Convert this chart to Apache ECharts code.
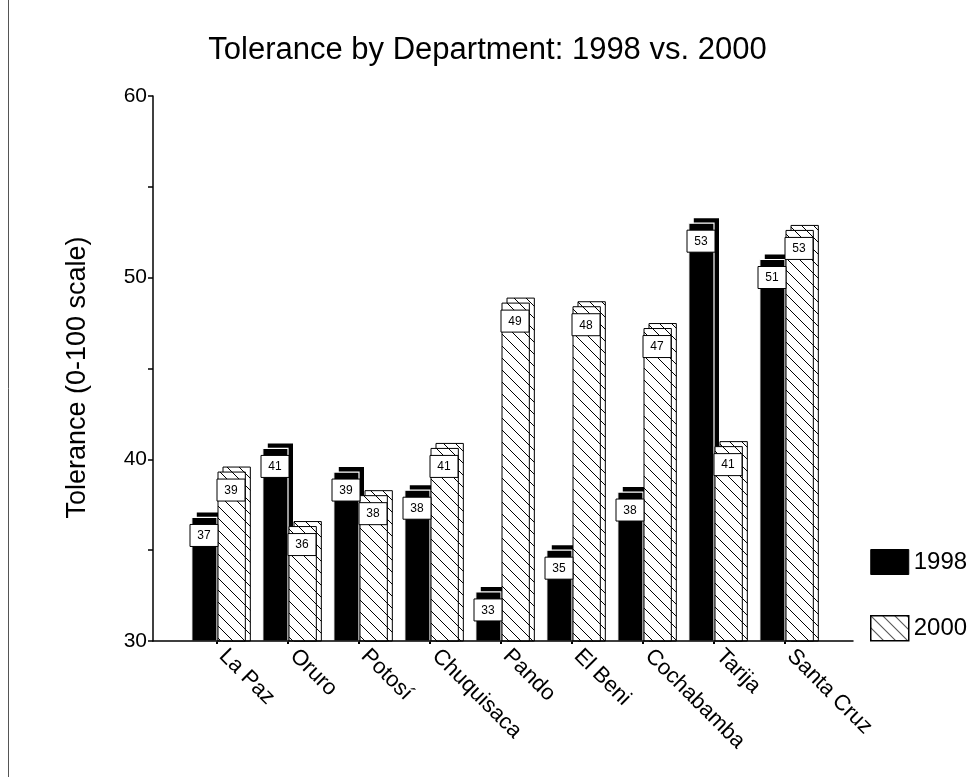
<!DOCTYPE html>
<html>
<head>
<meta charset="utf-8">
<script src="https://cdn.jsdelivr.net/npm/echarts@6/dist/echarts.min.js"></script>
<style>html,body{margin:0;padding:0;background:#fff;}#c{width:975px;height:777px;}</style>
</head>
<body>
<div id="c"></div>
<script>
const categories = ['La Paz','Oruro','Potosí','Chuquisaca','Pando','El Beni','Cochabamba','Tarija','Santa Cruz'];
const values1998 = [36.8, 40.6, 39.3, 38.3, 32.7, 35.0, 38.2, 53.0, 51.0];
const values2000 = [39.3, 36.3, 38.0, 40.6, 48.6, 48.4, 47.2, 40.7, 52.6];
const yTicks = [30, 40, 50, 60];
const seriesNames = ['1998', '2000'];

const FONT = '"Liberation Sans", Arial, sans-serif';
const yMin = yTicks[0], yMax = yTicks[yTicks.length - 1];

// hatch pattern "\\\"
const hc = document.createElement('canvas');
hc.width = 12; hc.height = 12;
const g = hc.getContext('2d');
g.fillStyle = '#fff'; g.fillRect(0, 0, 12, 12);
g.strokeStyle = '#000'; g.lineWidth = 1;
g.beginPath();
g.moveTo(-2, -2); g.lineTo(14, 14);
g.moveTo(-14, -2); g.lineTo(2, 14);
g.moveTo(10, -2); g.lineTo(26, 14);
g.stroke();
const hatch = { image: hc, repeat: 'repeat' };

const DX = 5, DY = 5;

function labelEls(cx, y, v, boxLeft) {
  return [
    { type: 'rect', z2: 5, shape: { x: boxLeft, y: y + 7, width: 28, height: 22 },
      style: { fill: '#fff', stroke: '#000', lineWidth: 1 } },
    { type: 'text', z2: 6, style: { text: String(Math.round(v)), x: boxLeft + 14, y: y + 18.5,
      align: 'center', verticalAlign: 'middle', font: '12px ' + FONT, fill: '#000' } }
  ];
}

function render1998(params, api) {
  const idx = api.value(0), v = api.value(1);
  const top = api.coord([idx, v]);
  const base = api.coord([idx, yMin]);
  const band = api.size([1, 0])[0];
  const w = band * 0.355;
  const cx = top[0];
  const x = cx - w, y = top[1], h = base[1] - top[1];
  return { type: 'group', children: [
    { type: 'rect', shape: { x: x + DX, y: y - DY, width: w, height: h + DY }, style: { fill: '#000' } },
    { type: 'rect', shape: { x: x, y: y, width: w, height: h }, style: { fill: '#000', stroke: '#fff', lineWidth: 1.2 } }
  ].concat(labelEls(cx, y, v, cx - 27)) };
}

function render2000(params, api) {
  const idx = api.value(0), v = api.value(1);
  const top = api.coord([idx, v]);
  const base = api.coord([idx, yMin]);
  const band = api.size([1, 0])[0];
  const w = band * 0.385;
  const cx = top[0];
  const x = cx + 1, y = top[1], h = base[1] - top[1];
  return { type: 'group', children: [
    { type: 'rect', shape: { x: x + DX, y: y - DY, width: w, height: h + DY }, style: { fill: hatch, stroke: '#000', lineWidth: 1 } },
    { type: 'rect', shape: { x: x, y: y, width: w, height: h }, style: { fill: hatch, stroke: '#000', lineWidth: 1 } }
  ].concat(labelEls(cx, y, v, cx)) };
}

const chart = echarts.init(document.getElementById('c'), null, { renderer: 'canvas' });
chart.setOption({
  backgroundColor: '#fff',
  animation: false,
  title: {
    text: 'Tolerance by Department: 1998 vs. 2000',
    left: 'center', top: 30,
    textStyle: { fontFamily: FONT, fontSize: 31, fontWeight: 'normal', color: '#000' }
  },
  legend: {
    orient: 'vertical', left: 870, top: 549, itemGap: 40, itemWidth: 38, itemHeight: 25,
    padding: 0,
    textStyle: { fontFamily: FONT, fontSize: 24, color: '#000' },
    data: [
      { name: seriesNames[0], icon: 'rect', itemStyle: { color: '#000', borderColor: '#000', borderWidth: 1 } },
      { name: seriesNames[1], icon: 'rect', itemStyle: { color: hatch, borderColor: '#000', borderWidth: 1.5 } }
    ]
  },
  graphic: [
    { type: 'line', shape: { x1: 8.5, y1: 0, x2: 8.5, y2: 777 }, style: { stroke: '#555', lineWidth: 1 } }
  ],
  grid: [
    { left: 181.5, right: 154.5, top: 96, bottom: 136 },
    { left: 153, right: 122, top: 96, bottom: 136 }
  ],
  xAxis: [
    { type: 'category', gridIndex: 0, data: categories, boundaryGap: true,
      axisLine: { show: false },
      axisTick: { show: true, alignWithLabel: true, length: 3, lineStyle: { color: '#000', width: 2 } },
      axisLabel: { rotate: -45, margin: 6, padding: [0, 0, 0, 8], fontFamily: FONT, fontSize: 22, color: '#000', interval: 0 },
      splitLine: { show: false } },
    { type: 'value', gridIndex: 1, min: 0, max: 1, z: 10,
      axisLine: { show: true, onZero: false, lineStyle: { color: '#000', width: 1.5 } },
      axisTick: { show: false }, axisLabel: { show: false }, splitLine: { show: false } }
  ],
  yAxis: [
    { type: 'value', gridIndex: 0, min: yMin, max: yMax, show: false },
    { type: 'value', gridIndex: 1, min: yMin, max: yMax, interval: 10, z: 10,
      name: 'Tolerance (0-100 scale)', nameLocation: 'middle', nameGap: 62, nameRotate: 90,
      nameTextStyle: { fontFamily: FONT, fontSize: 27, color: '#000', padding: [0, 18, 0, 0] },
      axisLine: { show: true, onZero: false, lineStyle: { color: '#000', width: 1.5 } },
      axisTick: { show: true, length: 5, lineStyle: { color: '#000', width: 1.5 } },
      minorTick: { show: true, splitNumber: 2, length: 5, lineStyle: { color: '#000', width: 1.5 } },
      axisLabel: { margin: 6, fontFamily: FONT, fontSize: 21, color: '#000' },
      splitLine: { show: false }, minorSplitLine: { show: false } }
  ],
  series: [
    { name: seriesNames[0], type: 'custom', xAxisIndex: 0, yAxisIndex: 0,
      itemStyle: { color: '#000' },
      renderItem: render1998, encode: { x: 0, y: 1 },
      data: values1998.map((v, i) => [i, v]) },
    { name: seriesNames[1], type: 'custom', xAxisIndex: 0, yAxisIndex: 0,
      itemStyle: { color: hatch, borderColor: '#000' },
      renderItem: render2000, encode: { x: 0, y: 1 },
      data: values2000.map((v, i) => [i, v]) }
  ]
});
</script>
</body>
</html>
